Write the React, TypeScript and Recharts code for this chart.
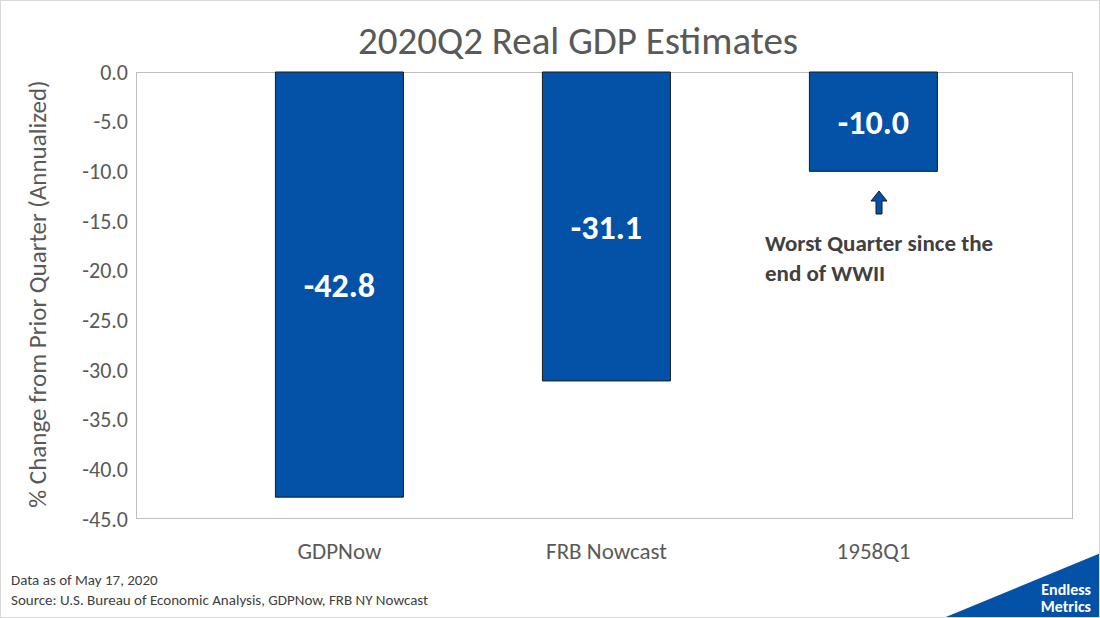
import { BarChart, Bar, XAxis, YAxis, LabelList } from "recharts";

const categories = ["GDPNow", "FRB Nowcast", "1958Q1"];
const estimates = [-42.8, -31.1, -10.0];
const yTicks = [0, -5, -10, -15, -20, -25, -30, -35, -40, -45];

const data = categories.map((name, i) => ({ name, value: estimates[i] }));

const font = "Calibri, Carlito, Lato, sans-serif";
const gray = "#595959";

const App = () => {
  return (
    <div
      style={{
        position: "fixed",
        left: 0,
        top: 0,
        width: 1100,
        height: 618,
        background: "#fff",
        fontFamily: font,
        boxSizing: "border-box",
        border: "1px solid #d9d9d9",
        overflow: "hidden",
      }}
    >
      <div style={{ position: "absolute", left: 135, top: 71, width: 937, height: 447, border: "1px solid #bfbfbf", boxSizing: "border-box" }} />
      <div style={{ position: "absolute", top: 16, left: 54, width: 1046, textAlign: "center", fontSize: 39, color: gray }}>
        2020Q2 Real GDP Estimates
      </div>
      <div
        style={{
          position: "absolute",
          left: 36,
          top: 293,
          transform: "translate(-50%, -50%) rotate(-90deg)",
          whiteSpace: "nowrap",
          fontSize: 25,
          color: gray,
        }}
      >
        % Change from Prior Quarter (Annualized)
      </div>
      <BarChart
        width={1100}
        height={618}
        data={data}
        margin={{ top: 71, right: 28, left: 65, bottom: 70 }}
        barCategoryGap="26%"
        style={{ position: "absolute", left: 0, top: 0 }}
      >
        <XAxis
          dataKey="name"
          axisLine={false}
          tickLine={false}
          height={30}
          padding={{ left: 70, right: 66 }}
          tick={{ fill: gray, fontSize: 23, fontFamily: font }}
          tickMargin={18}
        />
        <YAxis
          width={70}
          domain={[-45, 0]}
          ticks={yTicks}
          axisLine={false}
          tickLine={false}
          tickFormatter={(v: number) => v.toFixed(1)}
          tick={{ fill: gray, fontSize: 22, fontFamily: font }}
        />
        <Bar dataKey="value" fill="#0352a8" stroke="#1a1a1a" strokeWidth={1} isAnimationActive={false}>
          <LabelList
            dataKey="value"
            position="center"
            formatter={(v: number) => v.toFixed(1)}
            style={{ fill: "#fff", fontSize: 34, fontWeight: 700, fontFamily: font }}
          />
        </Bar>
      </BarChart>
      <svg style={{ position: "absolute", left: 868, top: 189 }} width={20} height={26}>
        <polygon points="10,1 18,11 13,11 13,24 7,24 7,11 2,11" fill="#0352a8" stroke="#1a1a1a" strokeWidth={1} />
      </svg>
      <div style={{ position: "absolute", left: 764, top: 227, fontSize: 23, fontWeight: 700, color: "#404040", lineHeight: "30px" }}>
        Worst Quarter since the
        <br />
        end of WWII
      </div>
      <div style={{ position: "absolute", left: 10, top: 569, fontSize: 15, color: "#404040", lineHeight: "20px" }}>
        Data as of May 17, 2020
        <br />
        Source: U.S. Bureau of Economic Analysis, GDPNow, FRB NY Nowcast
      </div>
      <svg style={{ position: "absolute", left: 940, top: 552 }} width={160} height={66}>
        <polygon points="160,0 160,66 0,66" fill="#0352a8" />
      </svg>
      <div style={{ position: "absolute", right: 8, top: 580, textAlign: "right", color: "#fff", fontWeight: 700, fontSize: 16, lineHeight: "17px" }}>
        Endless
        <br />
        Metrics
      </div>
    </div>
  );
};

export default App;
